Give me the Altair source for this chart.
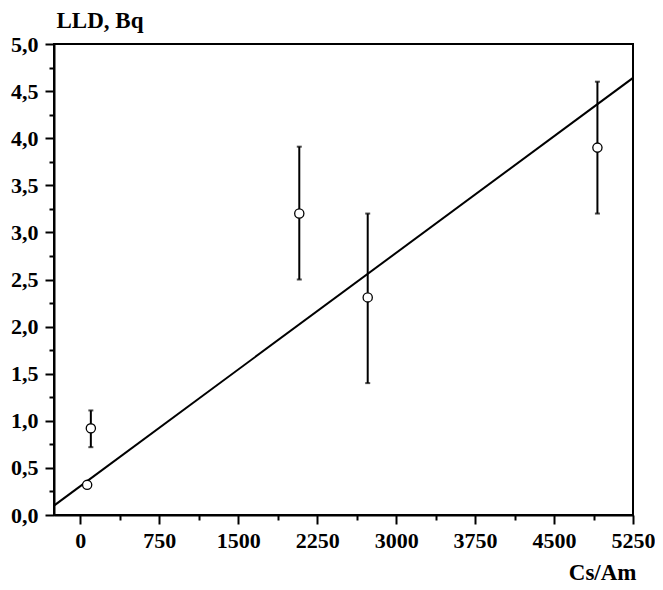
import altair as alt
import pandas as pd

# Data
cs_am = [65, 100, 2080, 2730, 4912]
lld = [0.32, 0.92, 3.20, 2.31, 3.90]
err_lo = [None, 0.72, 2.50, 1.40, 3.20]
err_hi = [None, 1.11, 3.91, 3.20, 4.60]

fit_x = [-250, 5250]
fit_y = [0.10, 4.64]

x_ticks = [i * 375 for i in range(15)]
y_ticks = [i * 0.25 for i in range(21)]

pts = pd.DataFrame({"x": cs_am, "y": lld, "lo": err_lo, "hi": err_hi})
errs = pts.dropna()
fit = pd.DataFrame({"x": fit_x, "y": fit_y})

FONT = "Liberation Serif"

x_axis = alt.Axis(
    values=x_ticks,
    labelExpr="datum.value % 750 == 0 ? format(datum.value, 'd') : ''",
    tickSize={"condition": {"test": "datum.value % 750 == 0", "value": 9}, "value": 5},
    labelPadding=6,
    labelFlush=False,
    title="Cs/Am",
    titleAlign="right",
    titleBaseline="alphabetic",
    titleX=582,
    titleY=64,
)
y_axis = alt.Axis(
    values=y_ticks,
    labelExpr="datum.value % 0.5 == 0 ? replace(format(datum.value, '.1f'), '.', ',') : ''",
    tickSize={"condition": {"test": "datum.value % 0.5 == 0", "value": 9}, "value": 5},
    labelPadding=7,
    labelFlush=False,
    title="LLD, Bq",
    titleAngle=0,
    titleAlign="left",
    titleBaseline="alphabetic",
    titleX=2,
    titleY=-17,
)

xs = alt.Scale(domain=[-250, 5250], nice=False, zero=False)
ys = alt.Scale(domain=[0, 5], nice=False, zero=False)

line = alt.Chart(fit).mark_line(color="black", strokeWidth=2, clip=True).encode(
    x=alt.X("x:Q", scale=xs, axis=x_axis, title="Cs/Am"),
    y=alt.Y("y:Q", scale=ys, axis=y_axis, title="LLD, Bq"),
)

bars = alt.Chart(errs).mark_errorbar(ticks=True, thickness=2, size=5, color="black").encode(
    x=alt.X("x:Q", scale=xs, axis=x_axis, title="Cs/Am"),
    y=alt.Y("lo:Q", scale=ys, axis=y_axis, title="LLD, Bq"),
    y2="hi:Q",
)

points = alt.Chart(pts).mark_point(
    shape="circle", filled=True, fill="white", stroke="black", strokeWidth=1.3, size=85, opacity=1
).encode(
    x=alt.X("x:Q", scale=xs, axis=x_axis, title="Cs/Am"),
    y=alt.Y("y:Q", scale=ys, axis=y_axis, title="LLD, Bq"),
)

chart = (
    alt.layer(line, bars, points)
    .properties(
        width=579,
        height=471,
        background="white",
        autosize=alt.AutoSizeParams(type="none"),
        padding={"left": 46, "top": 36, "right": 22, "bottom": 68},
    )
    .configure_view(stroke="black", strokeWidth=2)
    .configure_axis(
        grid=False,
        domainColor="black",
        domainWidth=2,
        tickColor="black",
        tickWidth=2,
        labelFont=FONT,
        labelFontSize=22,
        labelFontWeight="bold",
        labelColor="black",
        titleFont=FONT,
        titleFontSize=23,
        titleFontWeight="bold",
        titleColor="black",
    )
)

chart.save("out.html", embed_options={"renderer": "svg", "actions": False})
